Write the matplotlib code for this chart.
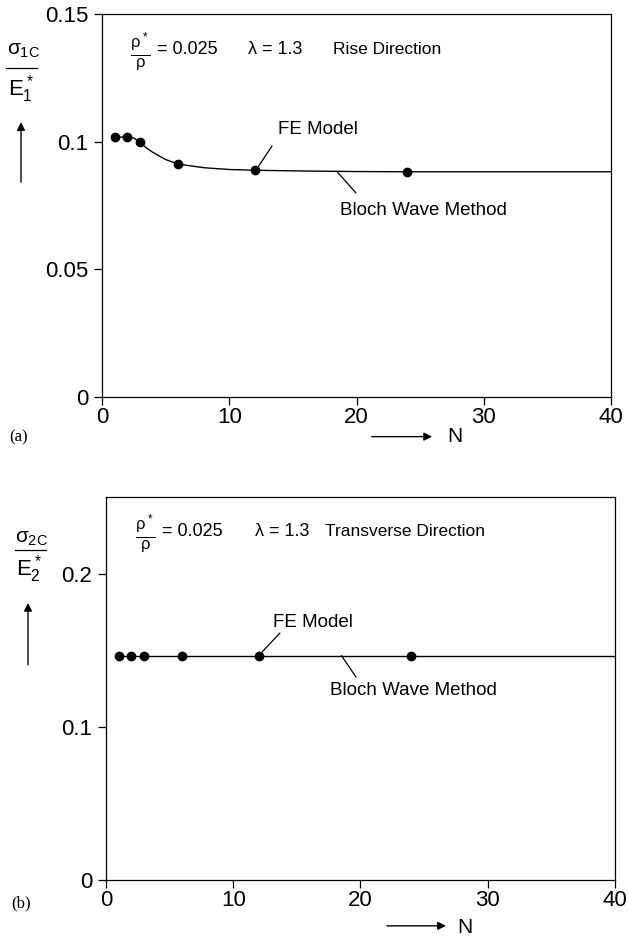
import numpy as np
import matplotlib.pyplot as plt
from matplotlib.lines import Line2D

plt.rcParams['font.family'] = ['Liberation Sans', 'DejaVu Sans']
plt.rcParams['mathtext.fontset'] = 'custom'
plt.rcParams['mathtext.rm'] = 'Liberation Sans'
plt.rcParams['mathtext.it'] = 'Liberation Sans'
plt.rcParams['mathtext.bf'] = 'Liberation Sans'

# FE model points
fe_n = [1, 2, 3, 6, 12, 24]
fe_rise = [0.1018, 0.1018, 0.0997, 0.0912, 0.0888, 0.0882]
fe_trans = [0.1465, 0.1465, 0.1465, 0.1465, 0.1465, 0.1465]

# Bloch wave curves
bw_n = [1, 2, 2.5, 3, 3.5, 4, 5, 6, 8, 10, 12, 16, 20, 24, 30, 40]
bw_rise = [0.1018, 0.1018, 0.1014, 0.0997, 0.0975, 0.0958, 0.0930, 0.0912,
           0.0898, 0.0891, 0.0888, 0.0885, 0.0883, 0.0882, 0.0882, 0.0882]
bw_trans = [0.1465] * len(bw_n)

x_ticks = [0, 10, 20, 30, 40]
rise_ticks = [0, 0.05, 0.1, 0.15]
rise_labels = ['0', '0.05', '0.1', '0.15']
trans_ticks = [0, 0.1, 0.2]
trans_labels = ['0', '0.1', '0.2']

fig = plt.figure(figsize=(6.29, 9.39), dpi=100)
ax1 = fig.add_axes([0.1622, 0.5772, 0.8092, 0.4079])
ax2 = fig.add_axes([0.1685, 0.0628, 0.8092, 0.4079])


def style(ax, yt, yl, ymax):
    ax.set_xlim(0, 40)
    ax.set_ylim(0, ymax)
    ax.set_xticks(x_ticks)
    ax.set_xticklabels([str(t) for t in x_ticks])
    ax.set_yticks(yt)
    ax.set_yticklabels(yl)
    ax.tick_params(direction='out', length=6, width=0.9, labelsize=16,
                   top=False, right=False)
    ax.tick_params(axis='x', pad=1)
    ax.tick_params(axis='y', pad=4)
    for s in ax.spines.values():
        s.set_linewidth(0.9)


style(ax1, rise_ticks, rise_labels, 0.15)
style(ax2, trans_ticks, trans_labels, 0.25)

for ax, bw, fe in [(ax1, bw_rise, fe_rise), (ax2, bw_trans, fe_trans)]:
    ax.plot(bw_n, bw, color='black', lw=1)
    ax.plot(fe_n, fe, 'o', color='black', ms=6)

lead = dict(arrowstyle='-', color='black', lw=0.9, shrinkA=0, shrinkB=0)

# top annotations
ax1.annotate('', xy=(12.26, 0.0901), xytext=(13.36, 0.0983), arrowprops=lead)
ax1.text(13.8, 0.1046, 'FE Model', fontsize=13.5, va='center')
ax1.annotate('', xy=(18.5, 0.0881), xytext=(19.96, 0.0799), arrowprops=lead)
ax1.text(18.7, 0.0732, 'Bloch Wave Method', fontsize=13.5, va='center')
ax1.text(0.055, 0.902, r'$\frac{\rho^*}{\rho}$', transform=ax1.transAxes,
         fontsize=17, va='center')
ax1.text(0.108, 0.906, '= 0.025', transform=ax1.transAxes, fontsize=13, va='center')
ax1.text(0.287, 0.906, 'λ = 1.3', transform=ax1.transAxes, fontsize=13, va='center')
ax1.text(0.454, 0.906, 'Rise Direction', transform=ax1.transAxes, fontsize=12.5, va='center')

# bottom annotations
ax2.annotate('', xy=(12.26, 0.1488), xytext=(13.67, 0.1612), arrowprops=lead)
ax2.text(13.1, 0.1684, 'FE Model', fontsize=13.5, va='center')
ax2.annotate('', xy=(18.5, 0.1465), xytext=(19.65, 0.1325), arrowprops=lead)
ax2.text(17.6, 0.124, 'Bloch Wave Method', fontsize=13.5, va='center')
ax2.text(0.057, 0.905, r'$\frac{\rho^*}{\rho}$', transform=ax2.transAxes,
         fontsize=17, va='center')
ax2.text(0.110, 0.909, '= 0.025', transform=ax2.transAxes, fontsize=13, va='center')
ax2.text(0.292, 0.909, 'λ = 1.3', transform=ax2.transAxes, fontsize=13, va='center')
ax2.text(0.430, 0.909, 'Transverse Direction', transform=ax2.transAxes, fontsize=12.5, va='center')

# y labels: stacked fractions with arrows
fig.text(0.011, 0.9414, r'$\sigma_{1C}$', fontsize=15, va='baseline')
fig.add_artist(Line2D([0.0095, 0.0588], [0.9276, 0.9276], color='black', lw=0.9))
fig.text(0.0127, 0.8988, r'$E_1^*$', fontsize=16, va='baseline')

fig.text(0.0238, 0.4217, r'$\sigma_{2C}$', fontsize=15, va='baseline')
fig.add_artist(Line2D([0.0238, 0.0731], [0.4143, 0.4143], color='black', lw=0.9))
fig.text(0.0254, 0.3876, r'$E_2^*$', fontsize=16, va='baseline')

arr = dict(arrowstyle='-|>', color='black', lw=1, mutation_scale=12, shrinkA=0, shrinkB=0)
fig.add_artist(plt.Annotation('', xy=(0.0334, 0.870), xytext=(0.0334, 0.806),
                              xycoords='figure fraction', arrowprops=arr))
fig.add_artist(plt.Annotation('', xy=(0.0445, 0.358), xytext=(0.0445, 0.292),
                              xycoords='figure fraction', arrowprops=arr))

# x labels with arrows
fig.add_artist(plt.Annotation('', xy=(0.687, 0.535), xytext=(0.591, 0.535),
                              xycoords='figure fraction', arrowprops=arr))
fig.text(0.711, 0.535, 'N', fontsize=15, va='center')
fig.add_artist(plt.Annotation('', xy=(0.709, 0.014), xytext=(0.615, 0.014),
                              xycoords='figure fraction', arrowprops=arr))
fig.text(0.727, 0.012, 'N', fontsize=15, va='center')

fig.text(0.015, 0.534, '(a)', fontsize=12, family='Liberation Serif', va='center')
fig.text(0.018, 0.038, '(b)', fontsize=12, family='Liberation Serif', va='center')

fig.savefig('out.png', dpi=100)
